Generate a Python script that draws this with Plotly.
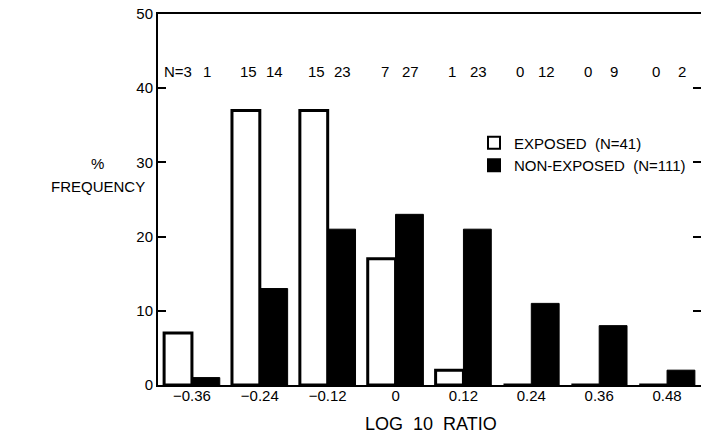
import plotly.graph_objects as go

ratio = [-0.36, -0.24, -0.12, 0.0, 0.12, 0.24, 0.36, 0.48]
tick_labels = ["\u22120.36", "\u22120.24", "\u22120.12", "0", "0.12", "0.24", "0.36", "0.48"]
exposed_pct = [7, 37, 37, 17, 2, 0, 0, 0]
nonexposed_pct = [1, 13, 21, 23, 21, 11, 8, 2]
exposed_n = ["N=3", "15", "15", "7", "1", "0", "0", "0"]
nonexposed_n = ["1", "14", "23", "27", "23", "12", "9", "2"]

FONT = "Liberation Sans, Arial, Helvetica, sans-serif"
INK = "#000"

fig = go.Figure()
fig.add_trace(go.Bar(
    x=ratio, y=exposed_pct, name="EXPOSED  (N=41)",
    marker=dict(color="white", line=dict(color="black", width=3)),
))
fig.add_trace(go.Bar(
    x=ratio, y=nonexposed_pct, name="NON-EXPOSED  (N=111)",
    marker=dict(color="black", line=dict(color="black", width=1)),
))

N_ROW_Y = 42.3
for xv, t in zip(ratio, exposed_n):
    fig.add_annotation(x=xv, y=N_ROW_Y, text=t, showarrow=False,
                       xshift=-14 if t.startswith("N") else -11,
                       font=dict(family=FONT, size=15, color=INK))
for xv, t in zip(ratio, nonexposed_n):
    fig.add_annotation(x=xv, y=N_ROW_Y, text=t, showarrow=False, xshift=15,
                       font=dict(family=FONT, size=15, color=INK))

fig.add_annotation(xref="paper", yref="paper", x=-0.1114, y=0.598, text="%",
                   showarrow=False, xanchor="center", yanchor="middle",
                   font=dict(family=FONT, size=15, color=INK))
fig.add_annotation(xref="paper", yref="paper", x=-0.1114, y=0.534, text="FREQUENCY",
                   showarrow=False, xanchor="center", yanchor="middle",
                   font=dict(family=FONT, size=15, color=INK))
fig.add_annotation(xref="paper", yref="paper", x=0.503, y=-0.106, text="LOG  10  RATIO",
                   showarrow=False, xanchor="center", yanchor="middle",
                   font=dict(family=FONT, size=18, color=INK))

fig.update_layout(
    width=703, height=436,
    margin=dict(l=158, r=0, t=14, b=51),
    paper_bgcolor="white", plot_bgcolor="white",
    barmode="group", bargap=0.18, bargroupgap=0,
    font=dict(family=FONT, size=15, color=INK),
    showlegend=True,
    legend=dict(x=0.582, y=0.697, xanchor="left", yanchor="top", bgcolor="rgba(0,0,0,0)",
                font=dict(family=FONT, size=15, color=INK), tracegroupgap=0,
                itemsizing="constant"),
    xaxis=dict(range=[-0.42, 0.54], tickvals=ratio, ticktext=tick_labels,
               showgrid=False, zeroline=False, showline=True, linecolor="black", linewidth=2,
               mirror=True, ticks="", ticklabelstandoff=-4,
               tickfont=dict(family=FONT, size=15, color=INK)),
    yaxis=dict(range=[0, 50], tickvals=[0, 10, 20, 30, 40, 50],
               showgrid=False, zeroline=False, showline=True, linecolor="black", linewidth=2,
               mirror="ticks", ticks="inside", ticklen=8, tickwidth=2, tickcolor="black",
               tickfont=dict(family=FONT, size=15, color=INK)),
)

fig.write_html("out.html", config={"displayModeBar": False},
               post_script="document.body.style.margin='0';document.body.style.overflow='hidden';")
